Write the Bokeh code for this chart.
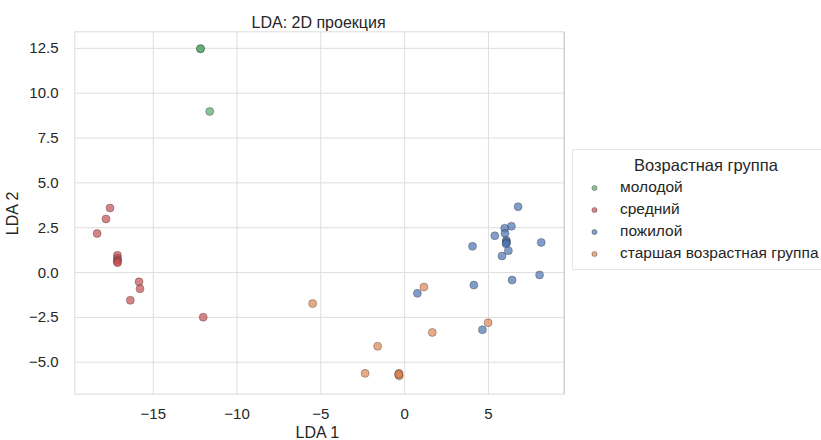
from bokeh.plotting import figure
from bokeh.models import Range1d, FixedTicker, Legend, LegendItem, Title
from bokeh.embed import file_html
from bokeh.resources import INLINE

# ---- data ----
groups = ["молодой", "средний", "пожилой", "старшая возрастная группа"]
colors = ["#55A868", "#C44E52", "#4C72B0", "#DD8452"]
legend_title = "Возрастная группа"
plot_title = "LDA: 2D проекция"
x_label = "LDA 1"
y_label = "LDA 2"

young_x = [-12.18, -12.18, -11.63]
young_y = [12.48, 12.48, 8.98]

mid_x = [-17.58, -17.82, -18.35, -17.14, -17.14, -17.12, -17.15, -17.13, -15.85, -15.79, -16.37, -12.02]
mid_y = [3.6, 2.99, 2.18, 0.96, 0.8, 0.7, 0.62, 0.55, -0.52, -0.9, -1.55, -2.49]

old_x = [0.76, 4.13, 4.64, 6.41, 8.05, 6.77, 6.37, 5.97, 5.99, 5.38, 6.07, 6.07, 6.08, 6.05, 6.19, 5.81, 4.05, 8.15]
old_y = [-1.16, -0.7, -3.19, -0.42, -0.13, 3.67, 2.58, 2.47, 2.19, 2.05, 1.8, 1.72, 1.65, 1.6, 1.22, 0.92, 1.46, 1.68]

senior_x = [-5.49, 1.15, 1.65, -1.61, -2.36, -0.34, -0.36, -0.32, -0.35, 4.98]
senior_y = [-1.73, -0.81, -3.34, -4.11, -5.62, -5.62, -5.7, -5.76, -5.66, -2.8]

x_ticks = [-15, -10, -5, 0, 5]
y_ticks = [-5.0, -2.5, 0.0, 2.5, 5.0, 7.5, 10.0, 12.5]

# axes limits (visible plotting box)
x_min, x_max = -19.7, 9.52
y_min, y_max = -6.8, 13.44

FONT = "Liberation Sans"
TXT = "#262626"
GRID = "#dedede"
EDGE = "#d0d0d0"

W, H = 821, 440
LEFT, TOP, BOTTOM = 72, 31, 43
BOX_W = 491                     # width of the visible axes box in px
frame_w = W - LEFT
x_end = x_min + (x_max - x_min) * frame_w / BOX_W   # frame extends under the legend

p = figure(width=W, height=H, output_backend="svg", toolbar_location=None,
           x_range=Range1d(x_min, x_end), y_range=Range1d(y_min, y_max),
           min_border_left=LEFT, min_border_right=0, min_border_top=TOP, min_border_bottom=BOTTOM)

p.title.text = plot_title
p.title.text_font = FONT
p.title.text_font_size = "16px"
p.title.text_font_style = "normal"
p.title.text_color = TXT
p.title.align = "left"
p.title.offset = 177
p.title.standoff = 2

p.outline_line_color = None
p.background_fill_color = "white"
p.border_fill_color = "white"
p.xgrid.visible = False
p.ygrid.visible = False

for ax in (p.xaxis[0], p.yaxis[0]):
    ax.axis_line_color = None
    ax.major_tick_line_color = None
    ax.minor_tick_line_color = None
    ax.major_label_text_font = FONT
    ax.major_label_text_font_size = "15px"
    ax.major_label_text_color = TXT
    ax.axis_label_text_font = FONT
    ax.axis_label_text_font_size = "16px"
    ax.axis_label_text_font_style = "normal"
    ax.axis_label_text_color = TXT

p.xaxis.major_label_standoff = 8
p.yaxis.major_label_standoff = 10
p.yaxis.axis_label_standoff = 5
p.yaxis.axis_label = y_label

p.xaxis.ticker = FixedTicker(ticks=x_ticks)
p.yaxis.ticker = FixedTicker(ticks=y_ticks)
p.xaxis.major_label_overrides = {t: (str(t).replace("-", "−")) for t in x_ticks}
p.yaxis.major_label_overrides = {t: ("%.1f" % t).replace("-", "−") for t in y_ticks}

# x axis label placed under the visible box
xl = Title(text=x_label, align="left", offset=221, standoff=0,
           text_font=FONT, text_font_size="16px", text_font_style="normal", text_color=TXT)
p.add_layout(xl, "below")

# grid lines and box outline, limited to the visible axes box
p.segment(x0=x_ticks, y0=[y_min] * len(x_ticks), x1=x_ticks, y1=[y_max] * len(x_ticks),
          line_color=GRID, line_width=1)
p.segment(x0=[x_min] * len(y_ticks), y0=y_ticks, x1=[x_max] * len(y_ticks), y1=y_ticks,
          line_color=GRID, line_width=1)
p.quad(left=[x_min], right=[x_max], bottom=[y_min], top=[y_max],
       fill_color=None, line_color=EDGE, line_width=1.5)

series = [(young_x, young_y), (mid_x, mid_y), (old_x, old_y), (senior_x, senior_y)]
items = []
for (xs, ys), name, c in zip(series, groups, colors):
    r = p.scatter(xs, ys, size=8, fill_color=c, fill_alpha=0.7,
                  line_color="#333333", line_alpha=0.35, line_width=1)
    items.append(LegendItem(label=name, renderers=[r]))

legend = Legend(items=items, location=(498, 124))
legend.title = "\u00a0" * 12 + legend_title
legend.title_text_font = FONT
legend.title_text_font_size = "16.5px"
legend.title_text_font_style = "normal"
legend.title_text_color = TXT
legend.title_standoff = 2
legend.label_text_font = FONT
legend.label_text_font_size = "15.5px"
legend.label_text_color = TXT
legend.glyph_width = 30
legend.glyph_height = 13      # small legend dots
legend.label_height = 20
legend.spacing = 2
legend.padding = 6
legend.label_standoff = 11
legend.border_line_color = EDGE
legend.border_line_width = 1
legend.background_fill_color = "white"
legend.background_fill_alpha = 1
legend.margin = 0
p.add_layout(legend, "center")

open("out.html", "w").write(file_html(p, INLINE))
